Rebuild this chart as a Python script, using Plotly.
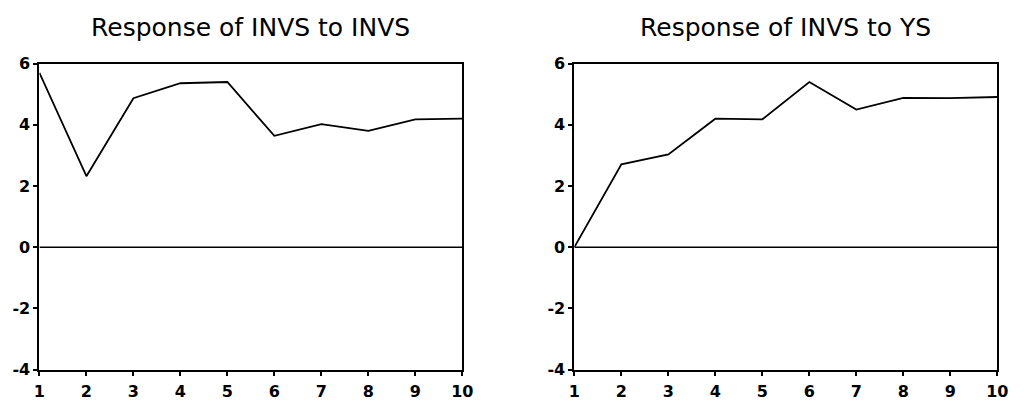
import plotly.graph_objects as go

periods = [1, 2, 3, 4, 5, 6, 7, 8, 9, 10]
invs_to_invs = [5.7, 2.32, 4.87, 5.36, 5.4, 3.64, 4.02, 3.8, 4.18, 4.2]
invs_to_ys = [0.0, 2.71, 3.03, 4.2, 4.18, 5.4, 4.5, 4.88, 4.87, 4.91]
titles = ["Response of INVS to INVS", "Response of INVS to YS"]
y_ticks = [-4, -2, 0, 2, 4, 6]
y_tick_text = ["-4", "-2", "0", "2", "4", "6"]

W, H = 1024, 411
fig = go.Figure()

fig.add_trace(go.Scatter(x=periods, y=invs_to_invs, mode="lines",
                         line=dict(color="black", width=1.8), xaxis="x", yaxis="y", showlegend=False))
fig.add_trace(go.Scatter(x=periods, y=invs_to_ys, mode="lines",
                         line=dict(color="black", width=1.8), xaxis="x2", yaxis="y2", showlegend=False))

ydom = [(H - 378) / H, (H - 57.3) / H]
doms = [[34 / W, 464 / W], [578 / W, 1008 / W]]

tick_font = dict(family="DejaVu Sans, Arial, sans-serif", size=16, color="black", weight="bold")
axis_common = dict(showline=True, linecolor="black", linewidth=2, mirror=True,
                   ticks="outside", ticklen=4, tickwidth=1.5, tickcolor="black",
                   showgrid=False, zeroline=False, tickfont=tick_font)

layout = dict(
    width=W, height=H, margin=dict(l=0, r=0, t=0, b=0),
    plot_bgcolor="white", paper_bgcolor="white", showlegend=False,
)
for i, xd in enumerate(doms):
    sx = "" if i == 0 else str(i + 1)
    layout["xaxis" + sx] = dict(domain=xd, range=[1, 10], tickvals=periods,
                                anchor="y" + sx, ticklabelstandoff=2, **axis_common)
    layout["yaxis" + sx] = dict(domain=ydom, range=[-4, 6], tickvals=y_ticks, ticktext=y_tick_text,
                                anchor="x" + sx, ticklabelstandoff=0, **axis_common)
fig.update_layout(**layout)

shapes = []
annotations = []
for i, (xd, ttl) in enumerate(zip(doms, titles)):
    sx = "" if i == 0 else str(i + 1)
    shapes.append(dict(type="line", xref="x" + sx, yref="y" + sx, x0=1, x1=10, y0=0, y1=0,
                       line=dict(color="black", width=1.5)))
    annotations.append(dict(text=ttl, x=(xd[0] + xd[1]) / 2, y=(H - 19) / H, xref="paper", yref="paper",
                            showarrow=False, xanchor="center", yanchor="middle",
                            font=dict(family="DejaVu Sans, Arial, sans-serif", size=25, color="black")))
fig.update_layout(shapes=shapes, annotations=annotations)

fig.write_html("out.html")
